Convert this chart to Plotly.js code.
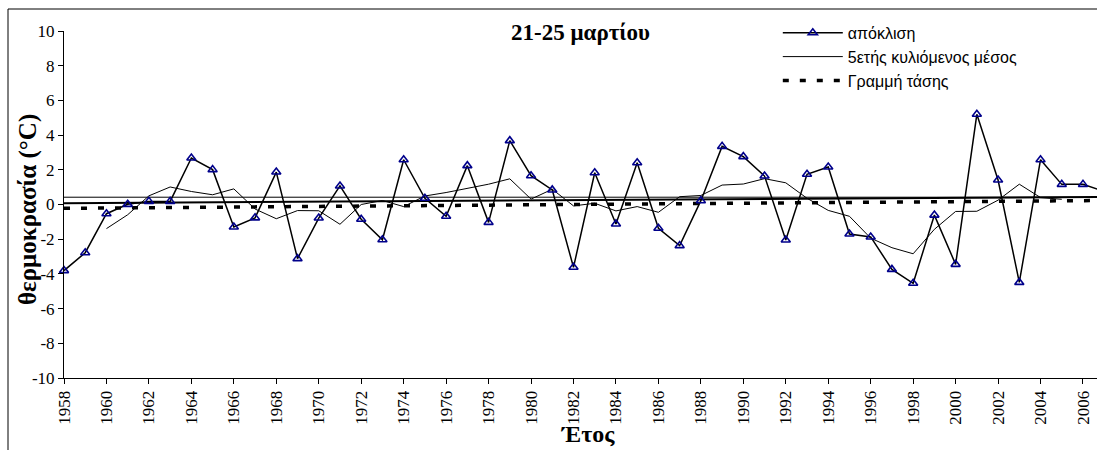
<!DOCTYPE html>
<html>
<head>
<meta charset="utf-8">
<script src="https://cdn.plot.ly/plotly-3.0.1.min.js"></script>
<style>
  html, body { margin: 0; padding: 0; background: #fff; }
  #chart { width: 1097px; height: 450px; }
</style>
</head>
<body>
<div id="chart"></div>
<script>
// ---- data ----
const years = [1958,1959,1960,1961,1962,1963,1964,1965,1966,1967,1968,1969,1970,1971,1972,1973,1974,1975,1976,1977,1978,1979,1980,1981,1982,1983,1984,1985,1986,1987,1988,1989,1990,1991,1992,1993,1994,1995,1996,1997,1998,1999,2000,2001,2002,2003,2004,2005,2006,2007];
const deviation = [-3.81,-2.78,-0.53,0.01,0.18,0.18,2.68,2.01,-1.30,-0.77,1.87,-3.12,-0.78,1.07,-0.85,-2.03,2.58,0.36,-0.68,2.24,-1.03,3.68,1.66,0.84,-3.62,1.83,-1.12,2.41,-1.37,-2.37,0.22,3.35,2.76,1.64,-2.05,1.74,2.16,-1.70,-1.87,-3.74,-4.54,-0.61,-3.45,5.20,1.41,-4.49,2.58,1.16,1.16,0.76];
const maYears = [1960,1961,1962,1963,1964,1965,1966,1967,1968,1969,1970,1971,1972,1973,1974,1975,1976,1977,1978,1979,1980,1981,1982,1983,1984,1985,1986,1987,1988,1989,1990,1991,1992,1993,1994,1995,1996,1997,1998,1999,2000,2001,2002,2003,2004,2005];
const movingAvg = [-1.39,-0.59,0.50,1.01,0.75,0.56,0.90,-0.26,-0.82,-0.35,-0.36,-1.14,0.00,0.23,-0.12,0.49,0.69,0.91,1.17,1.48,0.31,0.88,-0.08,0.07,-0.37,-0.12,-0.45,0.45,0.52,1.12,1.18,1.49,1.25,0.36,-0.34,-0.68,-1.94,-2.49,-2.84,-1.43,-0.40,-0.39,0.25,1.17,0.40,0.30];
const trendYears = [1958, 2007];
const trendValues = [-0.22, 0.23];
const meanYears = [1958, 2007];
const meanValues = [0.42, 0.42];
const refYears = [1958, 2007];
const refValues = [0.07, 0.44];
const yTicks = [-10,-8,-6,-4,-2,0,2,4,6,8,10];
const yTickLabels = ["-10","-8","-6","-4","-2","0","2","4","6","8","10"];
const names = ["απόκλιση", "5ετής κυλιόμενος μέσος", "Γραμμή τάσης"];
const chartTitle = "21-25 μαρτίου";
const xTitle = "Έτος";
const yTitle = "θερμοκρασία (°C)";

const serif = "'Liberation Serif', 'Times New Roman', serif";
const sans = "'Liberation Sans', Arial, sans-serif";

const traces = [
  { x: meanYears, y: meanValues, mode: "lines", line: {color: "#000", width: 1}, showlegend: false, hoverinfo: "skip" },
  { x: refYears, y: refValues, mode: "lines", line: {color: "#000", width: 2}, showlegend: false, hoverinfo: "skip" },
  { x: trendYears, y: trendValues, mode: "lines", name: names[2], line: {color: "#000", width: 3.5, dash: "6px,11px"} },
  { x: maYears, y: movingAvg, mode: "lines", name: names[1], line: {color: "#000", width: 1} },
  { x: years, y: deviation, mode: "lines+markers", name: names[0], cliponaxis: false,
    line: {color: "#000", width: 1.5},
    marker: {symbol: "triangle-up-open", size: 8, color: "#00008B", line: {color: "#00008B", width: 1.6}} }
];

const layout = {
  width: 1097, height: 450,
  margin: {l: 64, r: 0, t: 31, b: 72, pad: 0},
  paper_bgcolor: "#fff", plot_bgcolor: "#fff",
  font: {family: serif, size: 17, color: "#000"},
  title: { text: "<b>" + chartTitle + "</b>", font: {family: serif, size: 23, color: "#000"},
           xref: "paper", x: 0.5, xanchor: "center", yref: "container", y: 1 - 32/450, yanchor: "middle" },
  xaxis: {
    range: [1958, 2006.66], tick0: 1958, dtick: 2, tickmode: "linear",
    showgrid: false, zeroline: false, showline: true, linecolor: "#000", linewidth: 1,
    ticks: "outside", ticklen: 5, tickcolor: "#000", tickangle: -90,
    tickfont: {family: serif, size: 17, color: "#000"},
    automargin: false
  },
  yaxis: {
    range: [-10, 10], tickmode: "array", tickvals: yTicks, ticktext: yTickLabels,
    showgrid: false, zeroline: false, showline: true, linecolor: "#000", linewidth: 1,
    ticks: "outside", ticklen: 5, tickcolor: "#000",
    tickfont: {family: serif, size: 17, color: "#000"},
    automargin: false
  },
  annotations: [
    { text: "<b>" + yTitle + "</b>", xref: "paper", yref: "paper", x: (28-64)/1033, y: 1 - (210-31)/347,
      xanchor: "center", yanchor: "middle", textangle: -90, showarrow: false,
      font: {family: serif, size: 25, color: "#000"} },
    { text: "<b>" + xTitle + "</b>", xref: "paper", yref: "paper", x: (588-64)/1033, y: 1 - (434-31)/347,
      xanchor: "center", yanchor: "middle", showarrow: false,
      font: {family: serif, size: 24, color: "#000"} }
  ],
  showlegend: true,
  legend: {
    x: 0.691, y: 1.0435, xanchor: "left", yanchor: "top",
    bgcolor: "rgba(0,0,0,0)", borderwidth: 0,
    font: {family: sans, size: 16, color: "#000"},
    itemwidth: 60, traceorder: "reversed", tracegroupgap: 0
  },
  shapes: [
    { type: "line", xref: "paper", yref: "paper", x0: (8-64)/1033, x1: 1.05, y0: 1 + (31-9)/347, y1: 1 + (31-9)/347, line: {color: "#000", width: 1} },
    { type: "line", xref: "paper", yref: "paper", x0: (8-64)/1033, x1: (8-64)/1033, y0: 1 + (31-9)/347, y1: -0.3, line: {color: "#000", width: 1} }
  ]
};

Plotly.newPlot("chart", traces, layout, {displayModeBar: false, staticPlot: true});
</script>
</body>
</html>
